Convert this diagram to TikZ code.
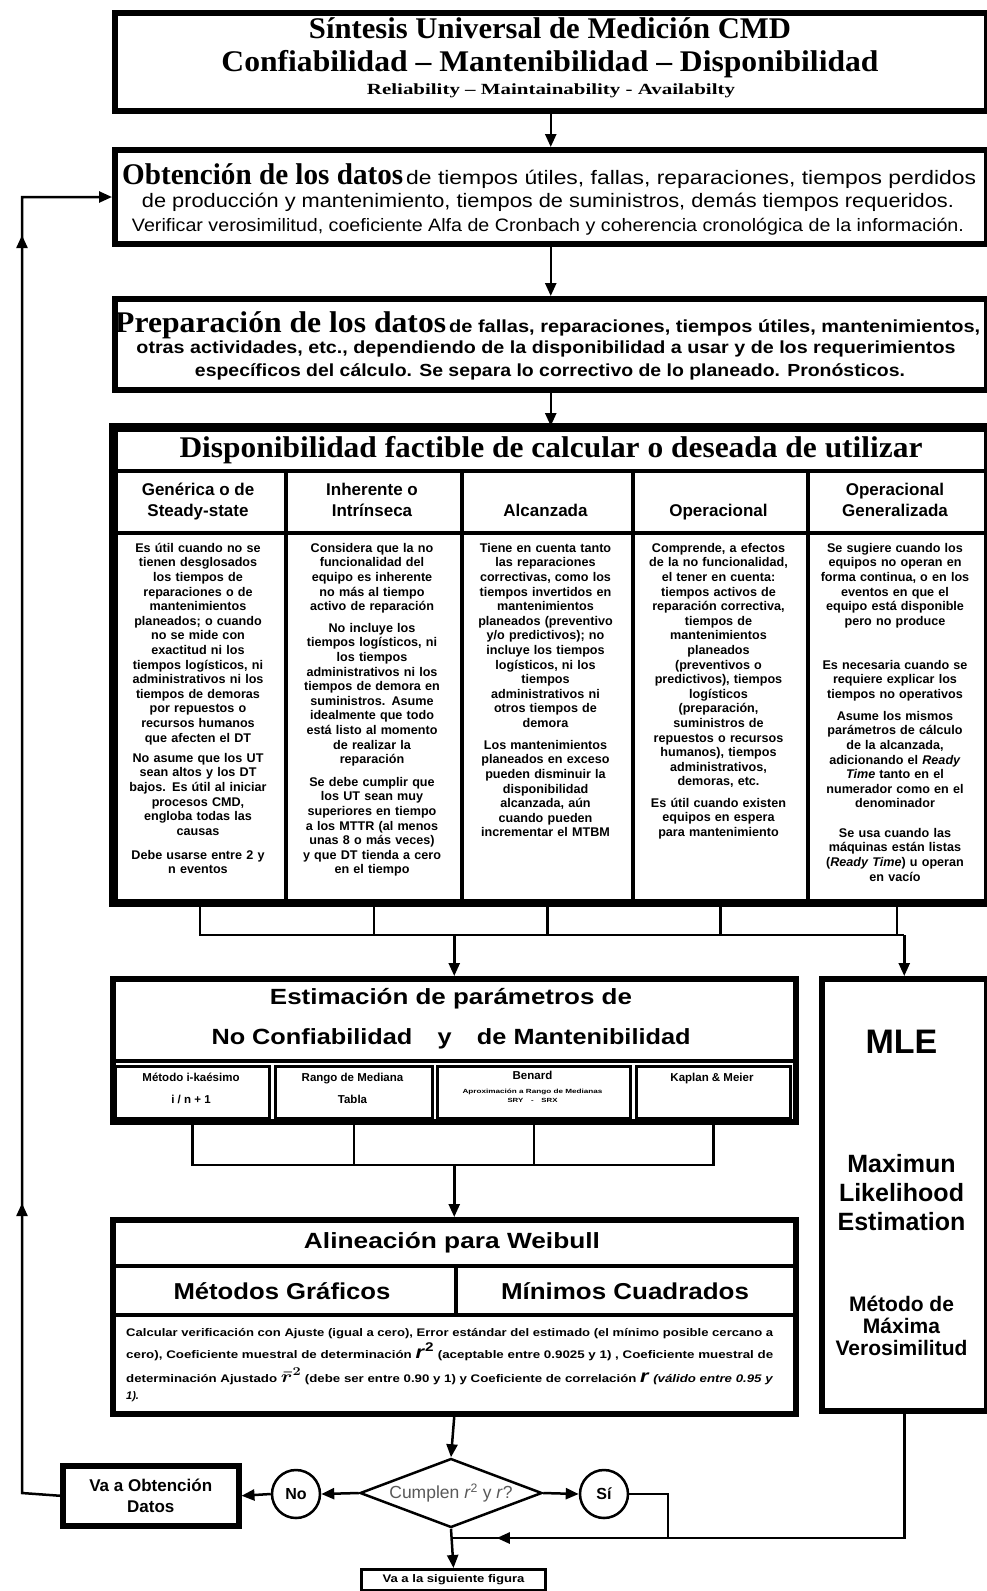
\documentclass[tikz,border=0pt]{standalone}
\usepackage{fontspec}
\setmainfont{Liberation Serif}
\setsansfont{Liberation Sans}
\usepackage{graphicx}
\usetikzlibrary{shapes.geometric,arrows.meta,decorations.markings}
\newcommand\fitw[2]{\resizebox{#1}{\height}{#2}}
\newcommand\fsz[2]{\fontsize{#1pt}{#2pt}\selectfont}
\begin{document}
\begin{tikzpicture}[x=1pt,y=-1pt,
  bx/.style={draw, line width=5.5pt, rectangle, inner sep=0pt, anchor=north west},
  colbx/.style={draw, line width=4pt, rectangle, inner sep=0pt, anchor=north west},
  subbx/.style={draw, line width=2.5pt, rectangle, inner sep=0pt, anchor=north west},
  sepl/.style={line width=4pt},
  conn/.style={line width=2.5pt},
  tip/.tip={Triangle[length=13pt,width=11pt]},
  arr/.style={line width=2.5pt, -tip},
  ttl/.style={inner sep=0pt, anchor=base, font=\rmfamily\bfseries\fsz{30}{33}},
  sl/.style={inner sep=0pt, anchor=base, font=\sffamily\bfseries\fsz{17}{20}},
  hd/.style={inner sep=0pt, anchor=base, font=\sffamily\bfseries\fsz{17}{21}},
  sb/.style={inner sep=0pt, anchor=base, font=\sffamily\bfseries\fsz{11.5}{14}},
  ct/.style={inner sep=0pt, anchor=north, text width=168pt, align=center,
    font=\sffamily\bfseries\fsz{12.6}{14.6}, execute at begin node=\rule{0pt}{10pt}},
]
\useasboundingbox (0,0) rectangle (987,1591);
\fill[white] (0,0) rectangle (987,1591);

% ---------- main boxes ----------
\node[bx, minimum width=872pt, minimum height=98pt] (b1) at (112,10) {};
\node[bx, minimum width=872pt, minimum height=94pt] (b2) at (112,147) {};
\node[bx, minimum width=872pt, minimum height=91pt] (b3) at (112,296) {};
\node[bx, minimum width=872pt, minimum height=473pt] (b4) at (112,426) {};
\node[colbx, minimum width=172pt, minimum height=430pt] (c1) at (112,469) {};
\node[colbx, minimum width=176pt, minimum height=430pt] (c2) at (284,469) {};
\node[colbx, minimum width=171pt, minimum height=430pt] (c3) at (460,469) {};
\node[colbx, minimum width=175pt, minimum height=430pt] (c4) at (631,469) {};
\node[colbx, minimum width=178pt, minimum height=430pt] (c5) at (806,469) {};
\draw[sepl] (112,533) -- (984,533);
\draw[line width=5.5pt] (b4.north west) rectangle (b4.south east);

\node[bx, minimum width=683pt, minimum height=143pt] (p) at (110,976) {};
\draw[sepl] (110,1061) -- (793,1061);
\node[subbx, minimum width=154pt, minimum height=52pt] (s1) at (114,1065) {};
\node[subbx, minimum width=157pt, minimum height=52pt] (s2) at (274,1065) {};
\node[subbx, minimum width=193pt, minimum height=52pt] (s3) at (436,1065) {};
\node[subbx, minimum width=154pt, minimum height=52pt] (s4) at (635,1065) {};

\node[bx, minimum width=165pt, minimum height=432pt] (m) at (819,976) {};

\node[bx, minimum width=683pt, minimum height=194pt] (w) at (110,1217) {};
\draw[sepl] (110,1266) -- (793,1266);
\draw[sepl] (110,1315) -- (793,1315);
\draw[sepl] (456,1266) -- (456,1315);

\node[diamond, draw, line width=2.5pt, minimum width=182pt, minimum height=69pt, inner sep=0pt] (d) at (451,1493) {};
\node[inner sep=0pt, font=\sffamily\fsz{17.5}{19}, text=black!65] (dt) at (d.center) {Cumplen \textit{r}\textsuperscript{2} y \textit{r}?};
\node[circle, draw, line width=2.5pt, minimum size=48pt, inner sep=0pt, font=\sffamily\bfseries\fsz{16}{18}] (no) at (296,1494) {No};
\node[circle, draw, line width=2.5pt, minimum size=48pt, inner sep=0pt, font=\sffamily\bfseries\fsz{16}{18}] (si) at (604,1494) {Sí};
\node[bx, minimum width=176pt, minimum height=60pt, align=center, font=\sffamily\bfseries\fsz{17}{21}] (va) at (60,1463) {Va a Obtención\\Datos};
\node[draw, line width=3pt, anchor=north west, minimum width=184pt, minimum height=21pt, inner sep=0pt,
  font=\sffamily\bfseries\fsz{11}{12}] (sf) at (360,1568) {\fitw{142pt}{Va a la siguiente figura}};

% ---------- connectors ----------
\draw[arr] (b1.south) -- (b2.north);
\draw[arr] (b2.south) -- (b3.north);
\draw[arr] (b3.south) -- (b4.north);

\coordinate (bus) at (0,935);
\draw[conn] (c1.south) -- (c1.south |- bus) -- (m.north |- bus);
\foreach \c in {c2,c3,c4,c5} \draw[conn] (\c.south) -- (\c.south |- bus);
\draw[arr] (p.north |- bus) -- (p.north);
\draw[arr] (m.north |- bus) -- (m.north);

\coordinate (bus2) at (0,1165);
\draw[conn] (s1.south) -- (s1.south |- bus2) -- (s4.south |- bus2) -- (s4.south);
\draw[conn] (s2.south) -- (s2.south |- bus2);
\draw[conn] (s3.south) -- (s3.south |- bus2);
\draw[arr] (p.south |- bus2) -- (w.north);

\draw[arr] (w.south) -- (d.north);
\draw[arr] (d.west) -- (no.east);
\draw[arr] (no.west) -- (va.east);
\draw[arr] (d.east) -- (si.west);

\coordinate (fbA) at (22,1493);
\coordinate (fbB) at (22,197);
\draw[arr, postaction={decorate}, decoration={markings,
   mark=at position 328pt with {\arrow{tip}},
   mark=at position 1296pt with {\arrow{tip}}}]
   (va.west) -- (fbA) -- (fbB) -- (b2.west |- fbB);

\coordinate (sj) at (668,1494);
\coordinate (bot) at (0,1538);
\draw[conn] (si.east) -- (sj) -- (sj |- bot);
\draw[conn, postaction={decorate}, decoration={markings,
   mark=at position 532pt with {\arrow{tip}}}]
   (m.south) -- (m.south |- bot) -- (d.south |- bot);
\draw[arr] (d.south) -- (sf.north);

% ---------- texts: title ----------
\node[ttl] (t1) at (550,38.5) {\fitw{482pt}{Síntesis Universal de Medición CMD}};
\node[ttl] (t2) at (550,71) {\fitw{657pt}{Confiabilidad – Mantenibilidad – Disponibilidad}};
\node[ttl, font=\rmfamily\bfseries\fsz{15.5}{17}] (t3) at (551,94) {\fitw{368pt}{Reliability – Maintainability - Availabilty}};

% box 2
\node[inner sep=0pt, anchor=base west] (o1) at (122,184) {\fitw{281pt}{\rmfamily\bfseries\fsz{30}{33}Obtención de los datos}\hspace{3pt}\fitw{570pt}{\sffamily\fsz{19.5}{22}de tiempos útiles, fallas, reparaciones, tiempos perdidos}};
\node[sl, font=\sffamily\fsz{19.5}{22}] (o2) at (548,207) {\fitw{812pt}{de producción y mantenimiento, tiempos de suministros, demás tiempos requeridos.}};
\node[sl, font=\sffamily\fsz{18}{20}] (o3) at (548,231) {\fitw{832pt}{Verificar verosimilitud, coeficiente Alfa de Cronbach y coherencia cronológica de la información.}};

% box 3
\node[inner sep=0pt, anchor=base west] (r1) at (115,332) {\fitw{331pt}{\rmfamily\bfseries\fsz{30}{33}Preparación de los datos}\hspace{3pt}\fitw{531pt}{\sffamily\bfseries\fsz{17.5}{20}de fallas, reparaciones, tiempos útiles, mantenimientos,}};
\node[sl, font=\sffamily\bfseries\fsz{17.5}{20}] (r2) at (546,353) {\fitw{819pt}{otras actividades, etc., dependiendo de la disponibilidad a usar y de los requerimientos}};
\node[sl, font=\sffamily\bfseries\fsz{17.5}{20}] (r3) at (550,376) {\fitw{710pt}{específicos del cálculo. Se separa lo correctivo de lo planeado. Pronósticos.}};

% box 4
\node[ttl] (t4) at (551,457) {\fitw{743pt}{Disponibilidad factible de calcular o deseada de utilizar}};
\node[hd] (h1a) at (198,495) {Genérica o de};
\node[hd] (h1b) at (198,516) {Steady-state};
\node[hd] (h2a) at (372,495) {Inherente o};
\node[hd] (h2b) at (372,516) {Intrínseca};
\node[hd] (h3) at (545.5,516) {Alcanzada};
\node[hd] (h4) at (718.5,516) {Operacional};
\node[hd] (h5a) at (895,495) {Operacional};
\node[hd] (h5b) at (895,516) {Generalizada};

\node[ct] (k11) at (198,542) {Es útil cuando no se\\ tienen desglosados\\ los tiempos de\\ reparaciones o de\\ mantenimientos\\ planeados; o cuando\\ no se mide con\\ exactitud ni los\\ tiempos logísticos, ni\\ administrativos ni los\\ tiempos de demoras\\ por repuestos o\\ recursos humanos\\ que afecten el DT};
\node[ct] (k12) at (198,752) {No asume que los UT\\ sean altos y los DT\\ bajos. Es útil al iniciar\\ procesos CMD,\\ engloba todas las\\ causas};
\node[ct] (k13) at (198,849) {Debe usarse entre 2 y\\ n eventos};

\node[ct] (k21) at (372,542) {Considera que la no\\ funcionalidad del\\ equipo es inherente\\ no más al tiempo\\ activo de reparación};
\node[ct] (k22) at (372,622) {No incluye los\\ tiempos logísticos, ni\\ los tiempos\\ administrativos ni los\\ tiempos de demora en\\ suministros. Asume\\ idealmente que todo\\ está listo al momento\\ de realizar la\\ reparación};
\node[ct] (k23) at (372,776) {Se debe cumplir que\\ los UT sean muy\\ superiores en tiempo\\ a los MTTR (al menos\\ unas 8 o más veces)\\ y que DT tienda a cero\\ en el tiempo};

\node[ct] (k31) at (545.5,542) {Tiene en cuenta tanto\\ las reparaciones\\ correctivas, como los\\ tiempos invertidos en\\ mantenimientos\\ planeados (preventivo\\ y/o predictivos); no\\ incluye los tiempos\\ logísticos, ni los\\ tiempos\\ administrativos ni\\ otros tiempos de\\ demora};
\node[ct] (k32) at (545.5,739) {Los mantenimientos\\ planeados en exceso\\ pueden disminuir la\\ disponibilidad\\ alcanzada, aún\\ cuando pueden\\ incrementar el MTBM};

\node[ct] (k41) at (718.5,542) {Comprende, a efectos\\ de la no funcionalidad,\\ el tener en cuenta:\\ tiempos activos de\\ reparación correctiva,\\ tiempos de\\ mantenimientos\\ planeados\\ (preventivos o\\ predictivos), tiempos\\ logísticos\\ (preparación,\\ suministros de\\ repuestos o recursos\\ humanos), tiempos\\ administrativos,\\ demoras, etc.};
\node[ct] (k42) at (718.5,797) {Es útil cuando existen\\ equipos en espera\\ para mantenimiento};

\node[ct, text width=172pt] (k51) at (895,542) {Se sugiere cuando los\\ equipos no operan en\\ forma continua, o en los\\ eventos en que el\\ equipo está disponible\\ pero no produce};
\node[ct, text width=172pt] (k52) at (895,659) {Es necesaria cuando se\\ requiere explicar los\\ tiempos no operativos};
\node[ct, text width=172pt] (k53) at (895,710) {Asume los mismos\\ parámetros de cálculo\\ de la alcanzada,\\ adicionando el \textit{Ready}\\ \textit{Time} tanto en el\\ numerador como en el\\ denominador};
\node[ct, text width=172pt] (k54) at (895,827) {Se usa cuando las\\ máquinas están listas\\ (\textit{Ready Time}) u operan\\ en vacío};

% parameter box
\node[sl, font=\sffamily\bfseries\fsz{22}{26}] (pt1) at (451,1004) {\fitw{362pt}{Estimación de parámetros de}};
\node[sl, font=\sffamily\bfseries\fsz{22}{26}] (pt2) at (451,1044) {\fitw{479pt}{No Confiabilidad\quad y\quad de Mantenibilidad}};
\node[sb] (s1a) at (191,1081) {Método i-kaésimo};
\node[sb] (s1b) at (191,1103) {i / n + 1};
\node[sb] (s2a) at (352.5,1081) {Rango de Mediana};
\node[sb] (s2b) at (352.5,1103) {Tabla};
\node[sb] (s3a) at (532.5,1079) {Benard};
\node[sb, font=\sffamily\bfseries\fsz{6}{7}] (s3b) at (532.5,1093) {\fitw{140pt}{Aproximación a Rango de Medianas}};
\node[sb, font=\sffamily\bfseries\fsz{6}{7}] (s3c) at (532.5,1102) {\fitw{50pt}{SRY\quad -\quad SRX}};
\node[sb] (s4a) at (712,1081) {Kaplan \& Meier};

% MLE
\node[sl, font=\sffamily\bfseries\fsz{34}{38}] (mle) at (901.5,1053) {MLE};
\node[sl, font=\sffamily\bfseries\fsz{25}{29}] (ml1) at (901.5,1172) {Maximun};
\node[sl, font=\sffamily\bfseries\fsz{25}{29}] (ml2) at (901.5,1201) {Likelihood};
\node[sl, font=\sffamily\bfseries\fsz{25}{29}] (ml3) at (901.5,1230) {Estimation};
\node[sl, font=\sffamily\bfseries\fsz{21}{22}] (mv1) at (901.5,1311) {Método de};
\node[sl, font=\sffamily\bfseries\fsz{21}{22}] (mv2) at (901.5,1333) {Máxima};
\node[sl, font=\sffamily\bfseries\fsz{21}{22}] (mv3) at (901.5,1355) {Verosimilitud};

% Weibull
\node[sl, font=\sffamily\bfseries\fsz{22}{26}] (wt) at (452,1248) {\fitw{296pt}{Alineación para Weibull}};
\node[sl, font=\sffamily\bfseries\fsz{23}{26}] (wg) at (282,1299) {\fitw{217pt}{Métodos Gráficos}};
\node[sl, font=\sffamily\bfseries\fsz{23}{26}] (wm) at (625,1299) {\fitw{248pt}{Mínimos Cuadrados}};
\begin{scope}[every node/.style={inner sep=0pt, anchor=base west, font=\sffamily\bfseries\fsz{11}{13}}]
\node (wl1) at (126,1336) {\fitw{647pt}{Calcular verificación con Ajuste (igual a cero), Error estándar del estimado (el mínimo posible cercano a}};
\node (wl2) at (126,1358) {\fitw{647pt}{cero), Coeficiente muestral de determinación {\fsz{18}{18}\textit{r}\textsuperscript{2}} (aceptable entre 0.9025 y 1) , Coeficiente muestral de}};
\node (wl3) at (126,1382) {\fitw{647pt}{determinación Ajustado {\fsz{18}{18}\boldmath$\bar{r}^{2}$} (debe ser entre 0.90 y 1) y Coeficiente de correlación {\fsz{18}{18}\textit{r}} \textit{(válido entre 0.95 y}}};
\node (wl4) at (126,1399) {\textit{1).}};
\end{scope}
\end{tikzpicture}
\end{document}
